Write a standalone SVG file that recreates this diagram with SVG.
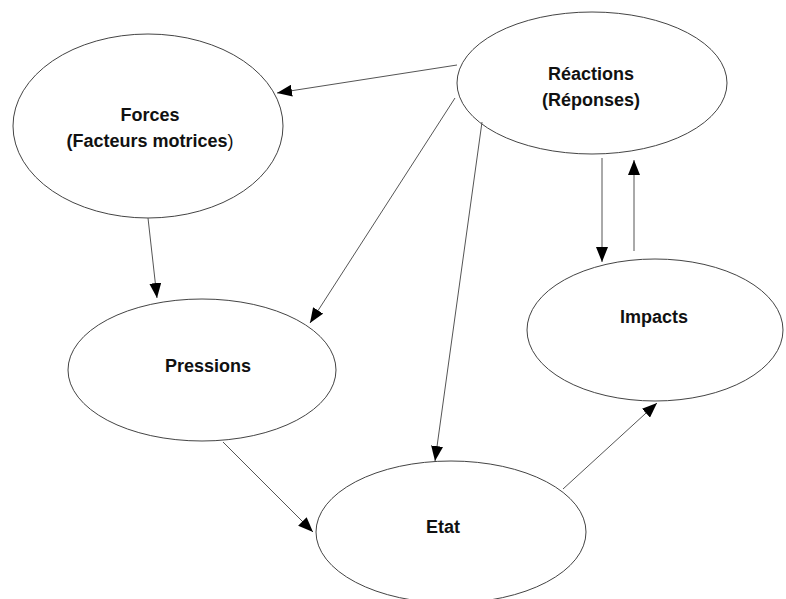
<svg xmlns="http://www.w3.org/2000/svg" width="786" height="599" viewBox="0 0 786 599">
<style>
.node ellipse{fill:#fff;stroke:#444;stroke-width:1}
.node text{font-family:"Liberation Sans",Arial,sans-serif;font-weight:bold;font-size:18px;fill:#111;text-anchor:middle}
.edge line{stroke:#555;stroke-width:1;fill:none;marker-end:url(#arr)}
</style>
<defs>
<marker id="arr" markerUnits="userSpaceOnUse" markerWidth="16" markerHeight="12" viewBox="0 0 16 12" refX="15" refY="6" orient="auto">
<path d="M0,0 L15,6 L0,12 Z" fill="#000"/>
</marker>
</defs>
<rect width="786" height="599" fill="#fff"/>
<g id="forces" class="node">
<ellipse cx="148" cy="126" rx="135" ry="92"/>
<text x="150" y="121">Forces</text>
<text x="150" y="147">(Facteurs motrices<tspan font-weight="normal">)</tspan></text>
</g>
<g id="reactions" class="node">
<ellipse cx="592" cy="83" rx="135" ry="71"/>
<text x="591" y="80">Réactions</text>
<text x="591" y="106">(Réponses)</text>
</g>
<g id="pressions" class="node">
<ellipse cx="202" cy="370" rx="134" ry="71"/>
<text x="208" y="372">Pressions</text>
</g>
<g id="impacts" class="node">
<ellipse cx="655" cy="330" rx="128" ry="71"/>
<text x="654" y="323">Impacts</text>
</g>
<g id="etat" class="node">
<ellipse cx="451" cy="532" rx="135" ry="71"/>
<text x="443" y="533">Etat</text>
</g>
<g id="connectors" class="edge">
<line x1="457" y1="65" x2="277" y2="93"/>
<line x1="148" y1="218" x2="157" y2="298"/>
<line x1="455" y1="98" x2="310" y2="323"/>
<line x1="482" y1="122" x2="435" y2="461"/>
<line x1="602" y1="158" x2="602" y2="262"/>
<line x1="634" y1="251" x2="634" y2="160"/>
<line x1="223" y1="442" x2="313" y2="532"/>
<line x1="563" y1="489" x2="657" y2="403"/>
</g>
</svg>
